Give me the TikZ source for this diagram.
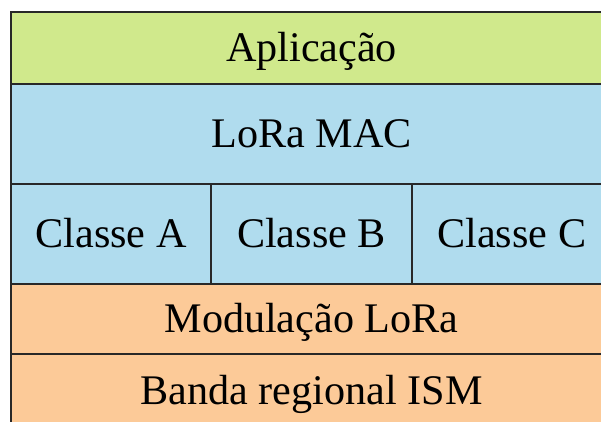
\documentclass[tikz,border=0pt]{standalone}
\usepackage{fontspec}
\setmainfont{Liberation Serif}
\usetikzlibrary{positioning}

\definecolor{appgreen}{RGB}{208,233,140}
\definecolor{macblue}{RGB}{176,220,238}
\definecolor{phyorange}{RGB}{252,202,152}
\definecolor{edgegray}{RGB}{40,40,40}

\begin{document}
\begin{tikzpicture}[
      layer/.style={draw=edgegray, line width=1.3pt, minimum width=15.025cm,
                    outer sep=0pt, inner sep=0pt, align=center,
                    font=\fontsize{30}{36}\selectfont,
                    text height=19.8pt, text depth=0pt},
      cell/.style={layer, minimum width=5.008cm, minimum height=2.5cm, fill=macblue},
      node distance=0cm
  ]
  \useasboundingbox (0,0) rectangle (15.025,-10.525);
  \clip (0,0) rectangle (15.025,-10.525);

  %% ---- Upper layers ----
  \node[layer, fill=appgreen, minimum height=1.8cm, anchor=north west]
      (app) at (0.275,-0.3) {Aplicação};
  \node[layer, fill=macblue, minimum height=2.5cm, below=of app] (mac) {LoRa MAC};

  %% ---- Classes ----
  \node[cell, anchor=north west] (clsA) at (mac.south west) {Classe A};
  \node[cell, right=of clsA] (clsB) {Classe B};
  \node[cell, right=of clsB] (clsC) {Classe C};

  %% ---- Physical layers ----
  \node[layer, fill=phyorange, minimum height=1.75cm, anchor=north west]
      (mod) at (clsA.south west) {Modulação LoRa};
  \node[layer, fill=phyorange, minimum height=1.825cm, below=of mod]
      (band) {Banda regional ISM};
\end{tikzpicture}
\end{document}
